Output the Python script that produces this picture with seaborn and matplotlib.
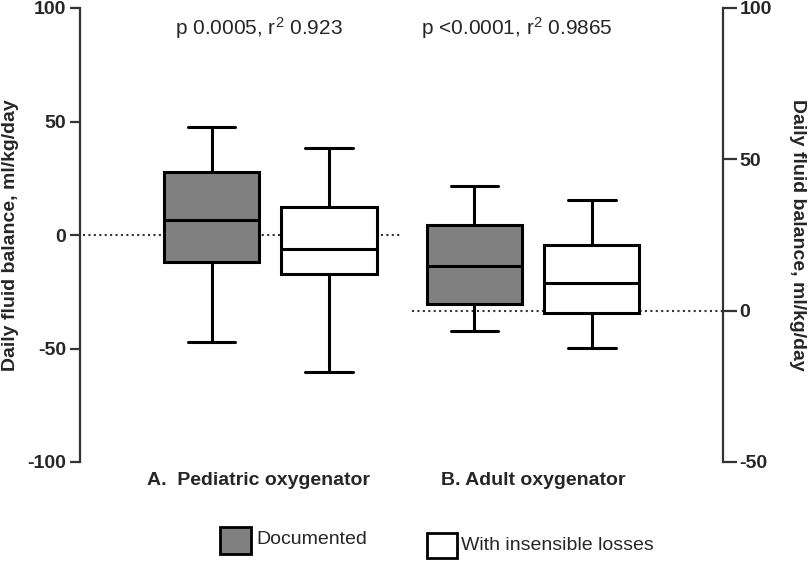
import pandas as pd
import matplotlib.pyplot as plt
import seaborn as sns
from matplotlib.patches import Rectangle
from matplotlib.transforms import ScaledTranslation

# five-number summaries: whisker low, Q1, median, Q3, whisker high
groups = ["A.  Pediatric oxygenator", "B. Adult oxygenator"]
kinds = ["Documented", "With insensible losses"]
ped_documented = [-47.1, -11.9, 6.8, 27.8, 47.6]
ped_insensible = [-60.2, -17.2, -6.2, 12.3, 38.3]
adult_documented = [-6.8, 2.2, 14.6, 28.2, 41.2]
adult_insensible = [-12.4, -0.8, 9.3, 21.6, 36.6]
stats_text = [r"p 0.0005, r$^{2}$ 0.923", r"p <0.0001, r$^{2}$ 0.9865"]
left_ticks = [-100, -50, 0, 50, 100]
right_ticks = [-50, 0, 50, 100]
ylabel = "Daily fluid balance, ml/kg/day"

gray = "#808080"
spine_col = "#333333"

sns.set_theme(style="ticks")
plt.rcParams['font.family'] = ['Liberation Sans', 'DejaVu Sans']
plt.rcParams['mathtext.fontset'] = 'custom'
plt.rcParams['mathtext.rm'] = 'Liberation Sans'
plt.rcParams['mathtext.it'] = 'Liberation Sans:italic'
plt.rcParams['mathtext.bf'] = 'Liberation Sans:bold'


def frame(group, a, b):
	rows = []
	for kind, vals in zip(kinds, [a, b]):
		for v in vals:
			rows.append({"group": group, "kind": kind, "value": v})
	return pd.DataFrame(rows)


df_ped = frame(groups[0], ped_documented, ped_insensible)
df_adult = frame(groups[1], adult_documented, adult_insensible)

fig = plt.figure(figsize=(8.1, 5.62), dpi=100)
ax = fig.add_axes([80 / 810, 1 - 462 / 562, 643 / 810, 454 / 562])
ax2 = ax.twinx()

box_kw = dict(x="group", y="value", hue="kind", order=groups, hue_order=kinds,
	palette=[gray, "white"], width=0.894, gap=0.19, whis=(0, 100),
	linewidth=2.2, linecolor="black", saturation=1, legend=False)
sns.boxplot(data=df_ped, ax=ax, **box_kw)
sns.boxplot(data=df_adult, ax=ax2, **box_kw)

ax.set_xlim(-0.724, 1.723)
ax2.set_xlim(-0.724, 1.723)
ax.set_ylim(-100, 100)
ax2.set_ylim(-50, 100)

# dotted zero lines, one for each scale
ax.axhline(0, xmin=0.005, xmax=0.498, ls=(0, (1, 1.6)), lw=1.5, color=spine_col, zorder=0)
ax2.axhline(0, xmin=0.516, xmax=1.0, ls=(0, (1, 1.6)), lw=1.5, color=spine_col, zorder=0)

for s in ["top", "right", "bottom"]:
	ax.spines[s].set_visible(False)
for s in ["top", "left", "bottom"]:
	ax2.spines[s].set_visible(False)
ax.spines["left"].set_color(spine_col)
ax.spines["left"].set_linewidth(1.6)
ax2.spines["right"].set_color(spine_col)
ax2.spines["right"].set_linewidth(1.6)

ax.set_yticks(left_ticks)
ax.set_yticklabels([str(t) for t in left_ticks], fontsize=14, fontweight="bold")
ax2.set_yticks(right_ticks)
ax2.set_yticklabels([str(t) for t in right_ticks], fontsize=14, fontweight="bold")
ax.tick_params(axis="y", length=7, width=1.6, color=spine_col, pad=3)
ax2.tick_params(axis="y", length=10, width=1.6, color=spine_col, pad=2)

ax.set_xticks(range(len(groups)))
ax.set_xticklabels(groups, fontsize=14, fontweight="bold")
ax.tick_params(axis="x", length=0, pad=7)
ax.set_xlabel("")
# the first group label sits a little left of its boxes in the original
first = ax.get_xticklabels()[0]
first.set_transform(first.get_transform() + ScaledTranslation(-0.12, 0, fig.dpi_scale_trans))

ax.set_ylabel(ylabel, fontsize=14, fontweight="bold", labelpad=6)
ax2.set_ylabel(ylabel, fontsize=14, fontweight="bold", rotation=270, va="bottom", labelpad=12)

fig.text(259 / 810, 1 - 28 / 562, stats_text[0], fontsize=15, ha="center", va="center")
fig.text(517 / 810, 1 - 28 / 562, stats_text[1], fontsize=15, ha="center", va="center")

# legend drawn by hand, the two entries sit at slightly different heights
fig.patches.append(Rectangle((220 / 810, 1 - 554 / 562), 31 / 810, 27 / 562,
	transform=fig.transFigure, fc=gray, ec="black", lw=2))
fig.text(256 / 810, 1 - 540 / 562, kinds[0], fontsize=14, ha="left", va="center")
fig.patches.append(Rectangle((427 / 810, 1 - 558 / 562), 30 / 810, 25 / 562,
	transform=fig.transFigure, fc="white", ec="black", lw=2))
fig.text(461 / 810, 1 - 546 / 562, kinds[1], fontsize=14, ha="left", va="center")

fig.savefig("out.png", dpi=100)
